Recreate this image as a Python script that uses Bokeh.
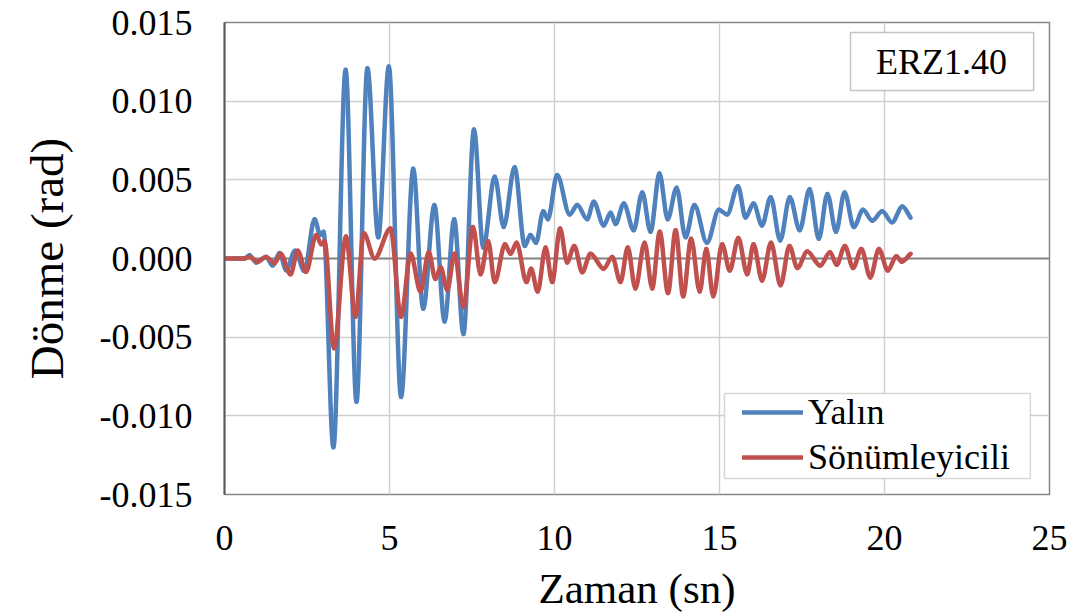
import numpy as np
from bokeh.plotting import figure
from bokeh.models import (Range1d, FixedTicker, PrintfTickFormatter, Span, Legend,
                          LegendItem, Label, BoxAnnotation, ColumnDataSource)
from bokeh.embed import file_html
from bokeh.resources import INLINE

# ---------------- data ----------------
yalin_t = [0, 0.6, 0.76, 0.96, 1.26, 1.46, 1.67, 1.87, 2.14, 2.42, 2.73, 2.9, 3.0,
           3.30, 3.67, 4.00, 4.33, 4.66, 4.98, 5.35, 5.72, 6.02, 6.36, 6.67, 6.96,
           7.24, 7.56, 7.84, 8.19, 8.46, 8.79, 9.10, 9.27, 9.44, 9.66, 9.80, 10.08,
           10.46, 10.69, 10.99, 11.19, 11.49, 11.70, 11.85, 12.10, 12.40, 12.66,
           12.91, 13.18, 13.43, 13.70, 13.97, 14.24, 14.62, 14.98, 15.23, 15.56,
           15.79, 16.03, 16.29, 16.55, 16.84, 17.13, 17.43, 17.73, 18.01, 18.27,
           18.53, 18.79, 19.07, 19.35, 19.63, 19.93, 20.23, 20.54, 20.79]
yalin_v = [0, 0, 0.0002, -0.00025, 0.0001, -0.00045, 0.00035, -0.00075, 0.0005, -0.0008,
           0.0025, 0.0015, 0.0017, -0.0120, 0.0120, -0.0091, 0.0121, 0.00135, 0.0122,
           -0.0088, 0.0057, -0.0032, 0.0034, -0.0040, 0.0025, -0.0048, 0.0082, 0.0007,
           0.0052, 0.0020, 0.0058, 0.0008, 0.0015, 0.0010, 0.0030, 0.0025, 0.0053,
           0.0028, 0.0034, 0.0025, 0.0036, 0.0021, 0.0029, 0.0022, 0.0035, 0.0018,
           0.0042, 0.0017, 0.0054, 0.0025, 0.0045, 0.00135, 0.0034, 0.0010, 0.0031,
           0.0028, 0.0046, 0.0026, 0.0035, 0.0021, 0.0039, 0.00115, 0.0039, 0.0018,
           0.0044, 0.00125, 0.0041, 0.0017, 0.0042, 0.0020, 0.0031, 0.0024, 0.0030,
           0.0023, 0.0033, 0.0026]

sonum_t = [0, 0.6, 0.76, 1.0, 1.26, 1.52, 1.70, 2.0, 2.22, 2.47, 2.78, 2.93, 3.03,
           3.32, 3.68, 3.97, 4.22, 4.55, 5.03, 5.35, 5.64, 5.94, 6.19, 6.39, 6.55,
           6.75, 6.97, 7.24, 7.53, 7.76, 7.99, 8.19, 8.50, 8.67, 8.85, 9.15, 9.29,
           9.49, 9.73, 9.93, 10.17, 10.38, 10.60, 10.84, 11.09, 11.49, 11.75, 12.0,
           12.22, 12.45, 12.73, 12.96, 13.19, 13.44, 13.67, 13.90, 14.14, 14.40,
           14.60, 14.81, 15.08, 15.31, 15.57, 15.84, 16.03, 16.29, 16.56, 16.85,
           17.12, 17.36, 17.66, 18.05, 18.35, 18.55, 18.80, 19.05, 19.30, 19.57,
           19.83, 20.10, 20.36, 20.52, 20.79]
sonum_v = [0, 0, 0.0001, -0.0002, 0.0001, -0.0003, 0.0003, -0.0010, 0.0005, -0.00085,
           0.0015, 0.0009, 0.0011, -0.0057, 0.0014, -0.0037, 0.0016, 0.0000, 0.0019,
           -0.0037, 0.0003, -0.0021, 0.0004, -0.0013, -0.00055, -0.0020, 0.0003,
           -0.0031, 0.0020, -0.0010, 0.0011, -0.0015, 0.0009, 0.0003, 0.0010, -0.0015,
           -0.00065, -0.0021, 0.0007, -0.0015, 0.0019, -0.00025, 0.0008, -0.00087,
           0.0003, -0.00065, 0.0001, -0.0015, 0.0007, -0.0019, 0.0010, -0.0019,
           0.0017, -0.0022, 0.0018, -0.0024, 0.00125, -0.0021, 0.0006, -0.0024,
           0.0009, -0.00076, 0.0013, -0.0010, 0.0009, -0.0014, 0.0010, -0.0017,
           0.0008, -0.0006, 0.00045, -0.00045, 0.0004, -0.0004, 0.0008, -0.0006,
           0.0006, -0.0012, 0.0006, -0.00076, 0.00015, -0.0002, 0.0003]

x_ticks = [0, 5, 10, 15, 20, 25]
y_ticks = [-0.015, -0.010, -0.005, 0.0, 0.005, 0.010, 0.015]
series_names = ["Yalın", "Sönümleyicili"]
panel_label = "ERZ1.40"

BLUE = "#4F81BD"
RED = "#C0504D"
FONT = "Liberation Serif"


def smooth_segments(t, v):
    """Monotone (PCHIP) cubic Bezier segments through the read points."""
    t = np.asarray(t, float)
    v = np.asarray(v, float)
    h = np.diff(t)
    d = np.diff(v) / h
    m = np.zeros_like(v)
    m[0] = d[0]
    m[-1] = d[-1]
    for k in range(1, len(v) - 1):
        if d[k - 1] * d[k] <= 0:
            m[k] = 0.0
        else:
            w1 = 2 * h[k] + h[k - 1]
            w2 = h[k] + 2 * h[k - 1]
            m[k] = (w1 + w2) / (w1 / d[k - 1] + w2 / d[k])
    return dict(
        x0=t[:-1], y0=v[:-1], x1=t[1:], y1=v[1:],
        cx0=t[:-1] + h / 3.0, cy0=v[:-1] + m[:-1] * h / 3.0,
        cx1=t[1:] - h / 3.0, cy1=v[1:] - m[1:] * h / 3.0,
    )


p = figure(width=1083, height=616, x_range=Range1d(0, 25), y_range=Range1d(-0.015, 0.015),
           output_backend="svg", toolbar_location=None,
           min_border_left=224, min_border_right=34, min_border_top=22, min_border_bottom=122)

p.background_fill_color = "white"
p.border_fill_color = "white"
p.outline_line_color = "#868686"
p.outline_line_width = 1.5

# grid
p.xgrid.ticker = FixedTicker(ticks=x_ticks)
p.ygrid.ticker = FixedTicker(ticks=y_ticks)
for g in (p.xgrid, p.ygrid):
    g.grid_line_color = "#d0d0d0"
    g.grid_line_width = 1.5

# axes
p.xaxis.ticker = FixedTicker(ticks=x_ticks)
p.yaxis.ticker = FixedTicker(ticks=y_ticks)
p.yaxis.formatter = PrintfTickFormatter(format="%.3f")
p.xaxis.axis_label = "Zaman (sn)"
p.yaxis.axis_label = "Dönme (rad)"
for ax in (p.xaxis, p.yaxis):
    ax.major_tick_in = 0
    ax.major_tick_out = 0
    ax.minor_tick_in = 0
    ax.minor_tick_out = 0
    ax.major_label_text_font = FONT
    ax.major_label_text_font_size = "36px"
    ax.major_label_text_color = "black"
    ax.axis_label_text_font = FONT
    ax.axis_label_text_font_style = "normal"
    ax.axis_label_text_color = "black"
p.xaxis.axis_label_text_font_size = "43px"
p.yaxis.axis_label_text_font_size = "47px"
p.xaxis.axis_line_color = None
p.yaxis.axis_line_color = "#595959"
p.yaxis.axis_line_width = 2
p.yaxis.major_label_standoff = 32
p.xaxis.major_label_standoff = 31
p.yaxis.axis_label_standoff = 24
p.xaxis.axis_label_standoff = 12

# zero line
p.add_layout(Span(location=0, dimension="width", line_color="#868686", line_width=2,
                  level="underlay"))

# series
b1 = smooth_segments(yalin_t, yalin_v)
b2 = smooth_segments(sonum_t, sonum_v)
r1 = p.bezier(source=ColumnDataSource(b1), x0="x0", y0="y0", x1="x1", y1="y1",
              cx0="cx0", cy0="cy0", cx1="cx1", cy1="cy1",
              line_color=BLUE, line_width=4.5, line_cap="round")
r2 = p.bezier(source=ColumnDataSource(b2), x0="x0", y0="y0", x1="x1", y1="y1",
              cx0="cx0", cy0="cy0", cx1="cx1", cy1="cy1",
              line_color=RED, line_width=4.5, line_cap="round")

# legend frame (white box with grey border)
p.add_layout(BoxAnnotation(left=15.15, right=24.42, bottom=-0.01398, top=-0.00858,
                           fill_color="white", fill_alpha=1,
                           line_color="#7f7f7f", line_width=1.5))
legend = Legend(items=[LegendItem(label=series_names[0], renderers=[r1]),
                       LegendItem(label=series_names[1], renderers=[r2])],
                location=(518, 16))
legend.border_line_color = None
legend.background_fill_alpha = 0
legend.label_text_font = FONT
legend.label_text_font_size = "36px"
legend.label_text_color = "black"
legend.glyph_width = 61
legend.glyph_height = 40
legend.label_height = 40
legend.spacing = 3
legend.padding = 0
legend.margin = 0
legend.label_standoff = 5
p.add_layout(legend)

# panel label box
p.add_layout(BoxAnnotation(left=18.97, right=24.52, bottom=0.01068, top=0.01436,
                           fill_color="white", fill_alpha=1,
                           line_color="#404040", line_width=1.5))
p.add_layout(Label(x=21.73, y=0.01252, text=panel_label, text_align="center",
                   text_baseline="middle", text_font=FONT, text_font_size="36px",
                   text_color="black"))

open("out.html", "w").write(file_html(p, INLINE))
